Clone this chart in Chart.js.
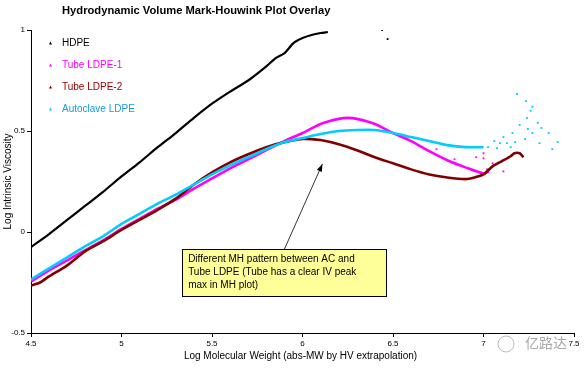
<!DOCTYPE html>
<html>
<head>
<meta charset="utf-8">
<script src="https://cdn.jsdelivr.net/npm/chart.js@4/dist/chart.umd.min.js"></script>
<style>
  html, body { margin: 0; padding: 0; background: #fff; }
  #wrap { width: 584px; height: 369px; }
</style>
</head>
<body>
<div id="wrap"><canvas id="mh" width="584" height="369"></canvas></div>
<script>
// ── Data (log MW vs log IV) ──────────────────────────────────────────────────
const SERIES = ["HDPE", "Tube LDPE-1", "Tube LDPE-2", "Autoclave LDPE"];

const HDPE_X = [4.50, 4.60, 4.70, 4.80, 4.90, 5.00, 5.10, 5.20, 5.30, 5.40, 5.50, 5.60, 5.70, 5.80, 5.85, 5.90, 5.95, 6.00, 6.05, 6.10, 6.14];
const HDPE_Y = [-0.075, -0.01, 0.06, 0.13, 0.20, 0.275, 0.345, 0.42, 0.49, 0.565, 0.635, 0.695, 0.75, 0.82, 0.86, 0.885, 0.935, 0.96, 0.975, 0.985, 0.99];
const HDPE_OUT_X = [6.44, 6.47];
const HDPE_OUT_Y = [1.0, 0.955];

const LDPE1_X = [4.50, 4.60, 4.70, 4.80, 4.90, 5.00, 5.10, 5.20, 5.30, 5.40, 5.50, 5.60, 5.70, 5.80, 5.90, 6.00, 6.10, 6.20, 6.25, 6.30, 6.40, 6.50, 6.60, 6.70, 6.80, 6.90, 7.00, 7.03];
const LDPE1_Y = [-0.245, -0.19, -0.14, -0.09, -0.04, 0.015, 0.065, 0.115, 0.16, 0.215, 0.265, 0.315, 0.36, 0.405, 0.45, 0.49, 0.535, 0.56, 0.565, 0.56, 0.535, 0.49, 0.45, 0.40, 0.355, 0.32, 0.29, 0.30];
const LDPE1_OUT_X = [6.96, 7.00, 7.00, 7.02, 7.05, 7.11, 6.74, 6.84];
const LDPE1_OUT_Y = [0.37, 0.39, 0.365, 0.31, 0.34, 0.30, 0.41, 0.36];

const LDPE2_X = [4.50, 4.55, 4.60, 4.70, 4.80, 4.90, 5.00, 5.10, 5.20, 5.30, 5.40, 5.50, 5.60, 5.70, 5.80, 5.90, 6.00, 6.05, 6.10, 6.20, 6.30, 6.40, 6.50, 6.60, 6.70, 6.80, 6.90, 6.95, 7.00, 7.05, 7.10, 7.15, 7.17, 7.20, 7.22];
const LDPE2_Y = [-0.265, -0.25, -0.22, -0.165, -0.095, -0.045, 0.01, 0.06, 0.11, 0.165, 0.235, 0.295, 0.345, 0.385, 0.42, 0.445, 0.46, 0.46, 0.455, 0.435, 0.405, 0.37, 0.34, 0.31, 0.285, 0.27, 0.262, 0.27, 0.285, 0.325, 0.35, 0.375, 0.39, 0.39, 0.37];

const AC_X = [4.50, 4.60, 4.70, 4.80, 4.90, 5.00, 5.10, 5.20, 5.30, 5.40, 5.50, 5.60, 5.70, 5.80, 5.90, 6.00, 6.10, 6.20, 6.30, 6.40, 6.50, 6.60, 6.70, 6.80, 6.90, 7.00];
const AC_Y = [-0.235, -0.18, -0.125, -0.07, -0.02, 0.04, 0.09, 0.14, 0.185, 0.235, 0.285, 0.33, 0.37, 0.41, 0.445, 0.465, 0.485, 0.50, 0.505, 0.505, 0.49, 0.47, 0.45, 0.43, 0.42, 0.42];
const AC_OUT_X = [7.025, 7.075, 7.09, 7.13, 7.15, 7.16, 7.175, 7.185, 7.20, 7.23, 7.235, 7.24, 7.245, 7.26, 7.27, 7.27, 7.30, 7.31, 7.32, 7.36, 7.38, 7.41, 7.11, 7.06];
const AC_OUT_Y = [0.42, 0.415, 0.44, 0.44, 0.42, 0.49, 0.445, 0.683, 0.53, 0.46, 0.648, 0.565, 0.51, 0.60, 0.62, 0.49, 0.54, 0.44, 0.515, 0.49, 0.41, 0.445, 0.47, 0.45];

const X_MIN = 4.5, X_MAX = 7.5, Y_MIN = -0.5, Y_MAX = 1, STEP = 0.5;

const COLORS = ["#000000", "#ff00ff", "#800000", "#00ccff"];
const TEXT_COLORS = ["#000000", "#ff00ff", "#a00000", "#1a9ae0"];

const TITLE  = "Hydrodynamic Volume Mark-Houwink Plot Overlay";
const X_TITLE = "Log Molecular Weight (abs-MW by HV extrapolation)";
const Y_TITLE = "Log Intrinsic Viscosity";
const NOTE = ["Different MH pattern between AC and", "Tube LDPE (Tube has a clear IV peak", "max in MH plot)"];

// ── Helpers ──────────────────────────────────────────────────────────────────
const pts = (xs, ys) => xs.map((x, i) => ({ x, y: ys[i] }));

function lineSet(label, xs, ys, color, order, width) {
  return {
    label, data: pts(xs, ys), showLine: true, borderColor: color, backgroundColor: color,
    borderWidth: width, pointRadius: 0, tension: 0.25, order
  };
}
function dotSet(label, xs, ys, color, order) {
  return {
    label, data: pts(xs, ys), showLine: false, borderColor: color, backgroundColor: color,
    pointStyle: "rect", pointRadius: 1.3, borderWidth: 0, order
  };
}

const FONT = '"Liberation Sans", Arial, sans-serif';

// ── Custom drawing: title, legend, axis titles, note, watermark ──────────────
const decor = {
  id: "decor",
  afterDraw(chart) {
    const { ctx, scales: { x, y } } = chart;
    ctx.save();
    ctx.fillStyle = "#000";
    ctx.textBaseline = "middle";

    ctx.font = "bold 11.2px " + FONT;
    ctx.textAlign = "left";
    ctx.fillText(TITLE, 62, 11);

    // legend
    ctx.font = "10px " + FONT;
    SERIES.forEach((name, i) => {
      const ry = 43 + i * 22;
      ctx.fillStyle = COLORS[i];
      ctx.beginPath();
      ctx.moveTo(49, ry + 1.5); ctx.lineTo(52, ry + 1.5); ctx.lineTo(50.5, ry - 1.5);
      ctx.closePath(); ctx.fill();
      ctx.fillStyle = TEXT_COLORS[i];
      ctx.fillText(name, 62, ry);
    });

    // axis titles
    ctx.fillStyle = "#000";
    ctx.font = "10px " + FONT;
    ctx.textAlign = "center";
    ctx.fillText(X_TITLE, (x.left + x.right) / 2 - 2, 356);
    ctx.save();
    ctx.translate(8, (y.top + y.bottom) / 2);
    ctx.rotate(-Math.PI / 2);
    ctx.fillText(Y_TITLE, 0, 0);
    ctx.restore();

    // arrow from note box to tube peak region
    const tx = x.getPixelForValue(6.11), ty = y.getPixelForValue(0.337);
    const fx = x.getPixelForValue(5.90), fy = y.getPixelForValue(-0.085);
    ctx.strokeStyle = "#333"; ctx.lineWidth = 1;
    ctx.beginPath(); ctx.moveTo(fx, fy); ctx.lineTo(tx, ty); ctx.stroke();
    const ang = Math.atan2(ty - fy, tx - fx);
    ctx.fillStyle = "#000";
    ctx.beginPath();
    ctx.moveTo(tx, ty);
    ctx.lineTo(tx - 8 * Math.cos(ang - 0.35), ty - 8 * Math.sin(ang - 0.35));
    ctx.lineTo(tx - 8 * Math.cos(ang + 0.35), ty - 8 * Math.sin(ang + 0.35));
    ctx.closePath(); ctx.fill();

    // note box
    const bx = x.getPixelForValue(5.335), by = y.getPixelForValue(-0.085);
    const bw = 204, bh = 47;
    ctx.fillStyle = "#ffff99";
    ctx.fillRect(bx, by, bw, bh);
    ctx.strokeStyle = "#000";
    ctx.strokeRect(Math.round(bx) + 0.5, Math.round(by) + 0.5, bw, bh);
    ctx.fillStyle = "#000";
    ctx.textAlign = "left";
    ctx.font = "10px " + FONT;
    NOTE.forEach((t, i) => ctx.fillText(t, bx + 6, by + 10 + i * 13));

    // watermark
    ctx.font = '14px "Noto Sans CJK SC", sans-serif';
    ctx.fillStyle = "rgba(140,140,140,0.75)";
    ctx.fillText("亿路达", 525, 343);
    ctx.strokeStyle = "rgba(170,170,170,0.8)";
    ctx.beginPath(); ctx.arc(506, 344, 8, 0, Math.PI * 2); ctx.stroke();
    ctx.restore();
  }
};

const fmtTick = v => String(+v.toFixed(1));

// ── Chart ────────────────────────────────────────────────────────────────────
new Chart(document.getElementById("mh"), {
  type: "scatter",
  data: {
    datasets: [
      lineSet(SERIES[3], AC_X, AC_Y, COLORS[3], 0, 2.6),
      dotSet(SERIES[3], AC_OUT_X, AC_OUT_Y, COLORS[3], 0),
      lineSet(SERIES[2], LDPE2_X, LDPE2_Y, COLORS[2], 1, 2.6),
      lineSet(SERIES[1], LDPE1_X, LDPE1_Y, COLORS[1], 2, 2.6),
      dotSet(SERIES[1], LDPE1_OUT_X, LDPE1_OUT_Y, COLORS[1], 2),
      lineSet(SERIES[0], HDPE_X, HDPE_Y, COLORS[0], 3, 2.2),
      dotSet(SERIES[0], HDPE_OUT_X, HDPE_OUT_Y, COLORS[0], 3),
    ]
  },
  options: {
    responsive: false,
    devicePixelRatio: 1,
    animation: false,
    layout: { padding: { top: 30, right: 10, left: 0, bottom: 0 } },
    plugins: { legend: { display: false }, tooltip: { enabled: false }, title: { display: false } },
    scales: {
      x: {
        type: "linear", min: X_MIN, max: X_MAX,
        ticks: { stepSize: STEP, color: "#000", font: { size: 8, family: FONT }, padding: 2, maxRotation: 0, callback: fmtTick },
        grid: { drawOnChartArea: false, tickLength: 4, color: "#000" },
        border: { color: "#000", width: 1 },
        afterFit: s => { s.height = 36; }
      },
      y: {
        min: Y_MIN, max: Y_MAX,
        ticks: { stepSize: STEP, color: "#000", font: { size: 8, family: FONT }, padding: 2, callback: fmtTick },
        grid: { drawOnChartArea: false, tickLength: 4, color: "#000" },
        border: { color: "#000", width: 1 },
        afterFit: s => { s.width = 31; }
      }
    }
  },
  plugins: [decor]
});
</script>
</body>
</html>
